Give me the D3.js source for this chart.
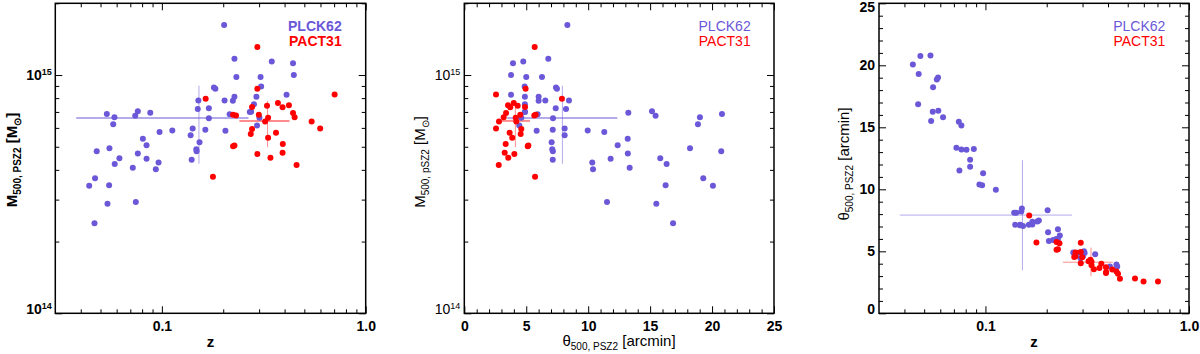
<!DOCTYPE html>
<html lang="en">
<head>
<meta charset="UTF-8">
<title>PSZ2 mass and size vs redshift</title>
<script src="https://cdn.jsdelivr.net/npm/d3@7"></script>
<style>
body { margin: 0; background: #fff; }
svg { display: block; font-family: "Liberation Sans", Arial, Helvetica, sans-serif; }
</style>
</head>
<body>
<script>
// PLCK62 clusters: redshift, M500 (units of 1e14 Msun), theta500 (arcmin)
var plckZ = [0.202, 0.227, 0.346, 0.440, 0.232, 0.444, 0.305, 0.180, 0.183, 0.307,
             0.409, 0.291, 0.151, 0.203, 0.223, 0.227, 0.283, 0.170, 0.150, 0.274,
             0.270, 0.0537, 0.0762, 0.0740, 0.0877, 0.0585, 0.170, 0.215, 0.301, 0.0577,
             0.293, 0.1416, 0.1125, 0.0974, 0.1634, 0.205, 0.1384, 0.0807, 0.153, 0.0841,
             0.0553, 0.0479, 0.1476, 0.148, 0.0762, 0.0619, 0.0841, 0.140, 0.0587, 0.0963,
             0.0720, 0.0934, 0.0470, 0.0440, 0.0551, 0.0541, 0.0745, 0.0467]
var plckM = [16.2, 11.7, 11.4, 11.2, 9.8, 10.0, 9.8, 8.87, 8.76, 8.96,
             8.27, 8.11, 7.81, 7.81, 7.79, 8.11, 7.54, 7.25, 7.21, 7.02,
             7.0, 6.87, 7.04, 6.74, 6.95, 6.65, 6.58, 6.84, 6.61, 6.21,
             6.14, 5.96, 5.85, 5.77, 5.90, 5.83, 5.59, 5.40, 5.22, 5.07,
             4.93, 4.79, 4.88, 4.79, 4.69, 4.47, 4.45, 4.41, 4.23, 4.29,
             4.08, 4.02, 3.69, 3.43, 3.45, 2.88, 2.93, 2.39]
var plckTheta = [8.32, 6.78, 4.76, 3.93, 6.27, 3.77, 5.0, 7.40, 7.48, 4.87,
                 3.77, 4.89, 8.45, 6.54, 6.0, 6.0, 4.89, 7.38, 8.21, 4.89,
                 4.9, 20.8, 15.15, 15.44, 13.24, 19.02, 7.16, 5.92, 4.6, 18.86,
                 4.44, 8.1, 9.96, 11.3, 7.14, 5.84, 8.1, 13.19, 7.05, 12.38,
                 18.22, 20.74, 7.1, 7.15, 13.2, 15.82, 11.81, 7.14, 16.33, 10.33,
                 13.35, 10.39, 19.29, 20.07, 16.25, 15.5, 11.52, 16.85]

// PACT31 clusters
var pactZ = [0.294, 0.294, 0.164, 0.704, 0.371, 0.420, 0.328, 0.277, 0.391, 0.440,
             0.448, 0.2235, 0.231, 0.299, 0.332, 0.321, 0.543, 0.598, 0.277, 0.273,
             0.363, 0.332, 0.2235, 0.227, 0.392, 0.294, 0.391, 0.341, 0.458, 0.178]
var pactM = [13.1, 8.76, 7.96, 8.29, 7.63, 7.46, 7.44, 7.35, 7.32, 6.93,
             6.65, 6.82, 6.76, 6.81, 6.61, 6.38, 6.38, 5.96, 5.94, 5.66,
             5.72, 5.45, 5.03, 5.06, 5.14, 4.66, 4.72, 4.50, 4.19, 3.74]
var pactTheta = [5.68, 4.95, 7.88, 2.56, 3.99, 3.53, 4.31, 4.90, 3.71, 3.37,
                 3.18, 5.76, 5.65, 4.52, 4.15, 4.20, 2.80, 2.56, 4.60, 4.55,
                 3.66, 3.87, 5.12, 5.17, 3.34, 4.04, 3.26, 3.55, 2.78, 5.71]

// median + spread markers, [PLCK62, PACT31]
var crossZ = [0.152, 0.33], crossZlo = [0.038, 0.24], crossZhi = [0.266, 0.423]
var crossM = [6.6, 6.42], crossMlo = [4.24, 4.98], crossMhi = [9.02, 7.8]
var crossTh = [7.92, 4.12], crossThlo = [3.47, 3.0], crossThhi = [12.35, 5.3]

var legendNames = ['PLCK62', 'PACT31']
var colors = ['#6a58d8', '#ff0000']

// tick values
var zMajor = [0.1, 1], zLabels = ['0.1', '1.0']
var zMinor = [0.04, 0.05, 0.06, 0.07, 0.08, 0.09, 0.2, 0.3, 0.4, 0.5, 0.6, 0.7, 0.8, 0.9]
var mMajor = [1, 10], mExp = ['14', '15']
var mMinor = [2, 3, 4, 5, 6, 7, 8, 9, 20]
var thMajor = [0, 5, 10, 15, 20, 25]
var thMinor = [1, 2, 3, 4, 6, 7, 8, 9, 11, 12, 13, 14, 16, 17, 18, 19, 21, 22, 23, 24]

var width = 1200, height = 354
var plotTop = 3.3, h = 310

var svg = d3.select('body').append('svg').attr('width', width).attr('height', height)

function clampLabel(p) { return Math.max(3.5, Math.min(h - 4.5, p)) - p }

function drawAxes(g, x, y, w, xt, yt) {
    var xb = g.append('g').attr('transform', 'translate(0,' + h + ')')
        .call(d3.axisBottom(x).tickValues(xt.major).tickSize(-7).tickPadding(8)
            .tickFormat(function (d, i) { return xt.labels[i] }))
    g.append('g').attr('transform', 'translate(0,' + h + ')')
        .call(d3.axisBottom(x).tickValues(xt.minor).tickSize(-4).tickFormat(''))
    g.append('g').call(d3.axisTop(x).tickValues(xt.major).tickSize(-7).tickFormat(''))
    g.append('g').call(d3.axisTop(x).tickValues(xt.minor).tickSize(-4).tickFormat(''))

    var yl = g.append('g')
        .call(d3.axisLeft(y).tickValues(yt.major).tickSize(-7).tickPadding(yt.pad)
            .tickFormat(yt.log ? '' : function (d) { return d }))
    g.append('g').call(d3.axisLeft(y).tickValues(yt.minor).tickSize(-4).tickFormat(''))
    g.append('g').attr('transform', 'translate(' + w + ',0)')
        .call(d3.axisRight(y).tickValues(yt.major).tickSize(-7).tickFormat(''))
    g.append('g').attr('transform', 'translate(' + w + ',0)')
        .call(d3.axisRight(y).tickValues(yt.minor).tickSize(-4).tickFormat(''))

    g.selectAll('.domain').remove()
    g.selectAll('.tick line').attr('stroke', '#000').attr('stroke-width', 1)
    g.selectAll('g').attr('font-family', null).attr('font-size', null)

    xb.selectAll('text').attr('font-size', 14).attr('font-weight', xt.bold ? 'bold' : 'normal').attr('fill', '#000')
    yl.selectAll('text').attr('font-size', yt.size).attr('font-weight', yt.bold ? 'bold' : 'normal').attr('fill', '#000')
        .attr('y', function (d) { return clampLabel(y(d)) })
    if (yt.log) {
        yl.selectAll('.tick text').each(function (d, i) {
            var t = d3.select(this)
            t.append('tspan').text('10')
            t.append('tspan').attr('dy', '-0.55em').attr('font-size', 9).text(yt.exp[i])
        })
    }

    g.append('rect').attr('width', w).attr('height', h)
        .attr('fill', 'none').attr('stroke', '#000').attr('stroke-width', 1.5)
}

function drawCrosses(g, x, y, xs, xlo, xhi, ys, ylo, yhi, hw) {
    for (var i = 0; i < 2; i++) {
        var c = g.append('g').attr('stroke', colors[i]).attr('stroke-opacity', i ? 0.45 : 0.5)
        c.append('line').attr('x1', x(xlo[i])).attr('x2', x(xhi[i]))
            .attr('y1', y(ys[i])).attr('y2', y(ys[i])).attr('stroke-width', hw)
        c.append('line').attr('x1', x(xs[i])).attr('x2', x(xs[i]))
            .attr('y1', y(ylo[i])).attr('y2', y(yhi[i])).attr('stroke-width', 1)
    }
}

function drawDots(g, x, y, xs1, ys1, xs2, ys2) {
    var sets = [[xs1, ys1], [xs2, ys2]]
    sets.forEach(function (s, k) {
        g.append('g').selectAll('circle').data(s[0]).enter().append('circle')
            .attr('cx', function (d) { return x(d) })
            .attr('cy', function (d, i) { return y(s[1][i]) })
            .attr('r', 3)
            .attr('fill', colors[k])
    })
}

function drawLegend(g, rx, bold) {
    legendNames.forEach(function (n, i) {
        g.append('text').attr('x', rx).attr('y', 28.2 + i * 15)
            .attr('text-anchor', 'end').attr('font-size', 14)
            .attr('font-weight', bold ? 'bold' : 'normal')
            .attr('fill', colors[i]).text(n)
    })
}

// rotated / horizontal titles with subscripts
function title(parent, x, y, rot, bold, parts) {
    var t = parent.append('text').attr('transform', 'translate(' + x + ',' + y + ')' + (rot ? ' rotate(-90)' : ''))
        .attr('text-anchor', 'middle').attr('font-size', 15).attr('font-weight', bold ? 'bold' : 'normal')
        .attr('fill', '#000')
    var shift = 0
    parts.forEach(function (p) {
        var sub = p[1]
        var dy = (sub ? 4 : 0) - shift
        shift = sub ? 4 : 0
        t.append('tspan').attr('dy', dy).attr('font-size', sub ? 10 : 15).text(p[0])
    })
}

var zTicks = { major: zMajor, minor: zMinor, labels: zLabels, bold: true }

// ---- panel 1: M500 vs z
var w1 = 310.4
var g1 = svg.append('g').attr('transform', 'translate(55.3,' + plotTop + ')')
var x1 = d3.scaleLog().domain([0.03, 1]).range([0, w1])
var y1 = d3.scaleLog().domain([1, 20]).range([h, 0])
drawCrosses(g1, x1, y1, crossZ, crossZlo, crossZhi, crossM, crossMlo, crossMhi, 2)
drawDots(g1, x1, y1, plckZ, plckM, pactZ, pactM)
drawAxes(g1, x1, y1, w1, zTicks,
    { major: mMajor, minor: mMinor, log: true, exp: mExp, pad: 3.5, size: 14, bold: true })
drawLegend(g1, 286.4, true)
title(svg, 17, 160, true, true, [['M'], ['500, PSZ2', 1], [' [M'], ['\u2299', 1], [']']])
title(svg, 210.5, 346.5, false, true, [['z']])

// ---- panel 2: M500 vs theta500
var w2 = 309.7
var g2 = svg.append('g').attr('transform', 'translate(464.3,' + plotTop + ')')
var x2 = d3.scaleLinear().domain([0, 25]).range([0, w2])
var y2 = d3.scaleLog().domain([1, 20]).range([h, 0])
drawCrosses(g2, x2, y2, crossTh, crossThlo, crossThhi, crossM, crossMlo, crossMhi, 2)
drawDots(g2, x2, y2, plckTheta, plckM, pactTheta, pactM)
drawAxes(g2, x2, y2, w2,
    { major: thMajor, minor: thMinor, labels: thMajor.map(String), bold: true },
    { major: mMajor, minor: mMinor, log: true, exp: mExp, pad: 4, size: 14, bold: false })
drawLegend(g2, 286.4, false)
title(svg, 425, 162, true, false, [['M'], ['500, pSZ2', 1], [' [M'], ['\u2299', 1], [']']])
title(svg, 619, 346, false, false, [['\u03b8'], ['500, PSZ2', 1], [' [arcmin]']])

// ---- panel 3: theta500 vs z
var w3 = 310
var g3 = svg.append('g').attr('transform', 'translate(879,' + plotTop + ')')
var x3 = d3.scaleLog().domain([0.03, 1]).range([0, w3])
var y3 = d3.scaleLinear().domain([0, 25]).range([h, 0])
drawCrosses(g3, x3, y3, crossZ, crossZlo, crossZhi, crossTh, crossThlo, crossThhi, 1)
drawDots(g3, x3, y3, plckZ, plckTheta, pactZ, pactTheta)
drawAxes(g3, x3, y3, w3, zTicks,
    { major: thMajor, minor: thMinor, log: false, pad: 4, size: 14, bold: true })
drawLegend(g3, 286.3, false)
title(svg, 849, 164, true, false, [['\u03b8'], ['500, PSZ2', 1], [' [arcmin]']])
title(svg, 1034, 346.5, false, true, [['z']])
</script>
</body>
</html>
